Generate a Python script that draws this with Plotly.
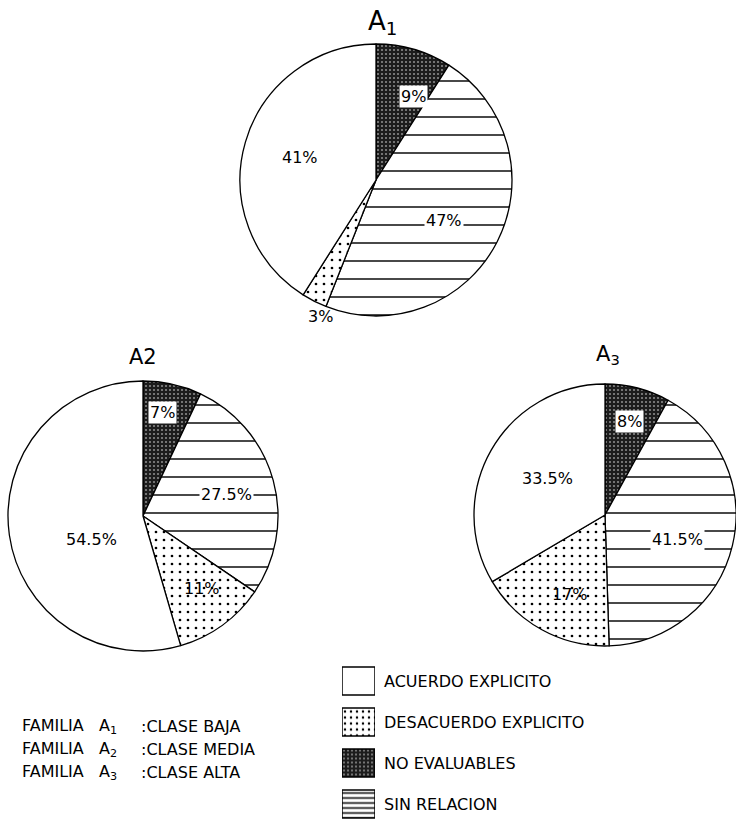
import math
import plotly.graph_objects as go

W, H = 736, 819

# ---------------- data ----------------
legend_categories = ["ACUERDO EXPLICITO", "DESACUERDO EXPLICITO", "NO EVALUABLES", "SIN RELACION"]
pie_order = ["NO EVALUABLES", "SIN RELACION", "DESACUERDO EXPLICITO", "ACUERDO EXPLICITO"]
a1_values = [9, 47, 3, 41]
a2_values = [7, 27.5, 11, 54.5]
a3_values = [8, 41.5, 17, 33.5]
pie_titles = ["A<sub>1</sub>", "A2", "A<sub>3</sub>"]
familia_labels = ["A<sub>1</sub>", "A<sub>2</sub>", "A<sub>3</sub>"]
clase_labels = ["CLASE BAJA", "CLASE MEDIA", "CLASE ALTA"]

# ---------------- styles ----------------
FONT = "DejaVu Sans"
style = {
    "ACUERDO EXPLICITO": dict(color="white", shape="", bg="white", fg="black", size=8, sol=0.1),
    "DESACUERDO EXPLICITO": dict(color="white", shape=".", bg="white", fg="black", size=8, sol=0.09),
    "NO EVALUABLES": dict(color="#1c1c1c", shape=".", bg="#1c1c1c", fg="#8a8a8a", size=4, sol=0.22),
    "SIN RELACION": dict(color="white", shape="-", bg="white", fg="black", size=18, sol=0.08),
}
legend_pattern_size = {"ACUERDO EXPLICITO": 8, "DESACUERDO EXPLICITO": 6,
                       "NO EVALUABLES": 4, "SIN RELACION": 5}
legend_pattern_sol = {"ACUERDO EXPLICITO": 0.1, "DESACUERDO EXPLICITO": 0.13,
                      "NO EVALUABLES": 0.22, "SIN RELACION": 0.3}
# pie geometry in pixels: centre x, centre y (from top), radius
pie_geom = [(376, 180, 136), (143, 516, 135), (605, 515, 131)]
# label placement (fraction of radius, angle offset in degrees), in pie_order
label_frac = [[0.67, 0.58, 1.08, 0.58], [0.78, 0.64, 0.69, 0.42], [0.74, 0.58, 0.66, 0.52]]
label_off = [[8, 4, -5, 0], [-2, 1, -3, -16], [0, 5, -5, 3]]
title_pos = [(383, 22), (143, 357), (608, 355)]
title_size = [26, 21, 21]
family_rows_px = [726, 749, 772]

fig = go.Figure()
annotations = []

for k, values in enumerate([a1_values, a2_values, a3_values]):
    cx, cy, r = pie_geom[k]
    dom_x = [max(0.0, (cx - r) / W), min(1.0, (cx + r) / W)]
    dom_y = [1 - (cy + r) / H, 1 - (cy - r) / H]
    fig.add_trace(go.Pie(
        labels=pie_order, values=values, sort=False, direction="clockwise", rotation=0,
        domain=dict(x=dom_x, y=dom_y), textinfo="none", hoverinfo="skip", showlegend=False,
        marker=dict(
            colors=[style[c]["color"] for c in pie_order],
            line=dict(color="black", width=1.3),
            pattern=dict(
                shape=[style[c]["shape"] for c in pie_order],
                bgcolor=[style[c]["bg"] for c in pie_order],
                fgcolor=[style[c]["fg"] for c in pie_order],
                size=[style[c]["size"] for c in pie_order],
                solidity=[style[c]["sol"] for c in pie_order],
                fillmode="replace",
            ),
        ),
    ))
    total = sum(values)
    start = 0.0
    for i, v in enumerate(values):
        mid = (start + v / 2) / total * 360 + label_off[k][i]
        start += v
        a = math.radians(mid)
        fr = label_frac[k][i]
        px = cx + r * fr * math.sin(a)
        py = cy - r * fr * math.cos(a)
        cat = pie_order[i]
        bg = "white" if cat in ("NO EVALUABLES", "SIN RELACION") else "rgba(0,0,0,0)"
        annotations.append(dict(
            x=px / W, y=1 - py / H, xref="paper", yref="paper", showarrow=False,
            xanchor="center", yanchor="middle",
            text=f"{v:g}%", font=dict(family=FONT, size=16, color="black"),
            bgcolor=bg, borderpad=1,
        ))
    tx, ty = title_pos[k]
    annotations.append(dict(
        x=tx / W, y=1 - ty / H, xref="paper", yref="paper", showarrow=False,
        xanchor="center", yanchor="middle",
        text=pie_titles[k], font=dict(family=FONT, size=title_size[k], color="black"),
    ))

# family descriptions (two parts so the colons line up)
for j in range(3):
    yy = 1 - family_rows_px[j] / H
    annotations.append(dict(
        x=20 / W, y=yy, xref="paper", yref="paper", showarrow=False,
        xanchor="left", yanchor="middle",
        text=f"FAMILIA&nbsp;&nbsp;&nbsp;{familia_labels[j]}",
        font=dict(family=FONT, size=16, color="black"),
    ))
    annotations.append(dict(
        x=139 / W, y=yy, xref="paper", yref="paper", showarrow=False,
        xanchor="left", yanchor="middle",
        text=f":{clase_labels[j]}",
        font=dict(family=FONT, size=16, color="black"),
    ))

# legend drawn as patterned bars (one trace per category)
for c in legend_categories:
    s = style[c]
    fig.add_trace(go.Bar(
        y=[c], x=[1], orientation="h", width=0.68, hoverinfo="skip", showlegend=False,
        marker=dict(
            color=s["color"], line=dict(color="black", width=1.5),
            pattern=dict(shape=s["shape"], bgcolor=s["bg"], fgcolor=s["fg"],
                         size=legend_pattern_size[c], solidity=legend_pattern_sol[c],
                         fillmode="replace"),
        ),
    ))

top_px = 660.5
fig.update_layout(
    width=W, height=H, margin=dict(l=0, r=0, t=0, b=0),
    paper_bgcolor="white", plot_bgcolor="white", barmode="overlay",
    annotations=annotations,
    xaxis=dict(domain=[342 / W, 375 / W], range=[0, 1], visible=False, fixedrange=True),
    yaxis=dict(
        domain=[0, (H - top_px) / H], type="category", categoryorder="array",
        categoryarray=legend_categories, range=[(H - top_px) / 41 - 0.5, -0.5],
        side="right", ticks="", showgrid=False, zeroline=False, showline=False,
        ticklabelstandoff=8,
        tickfont=dict(family=FONT, size=16, color="black"), anchor="x", fixedrange=True,
    ),
)

fig.write_html("out.html", config={"displayModeBar": False},
               post_script="document.body.style.margin='0px';")
